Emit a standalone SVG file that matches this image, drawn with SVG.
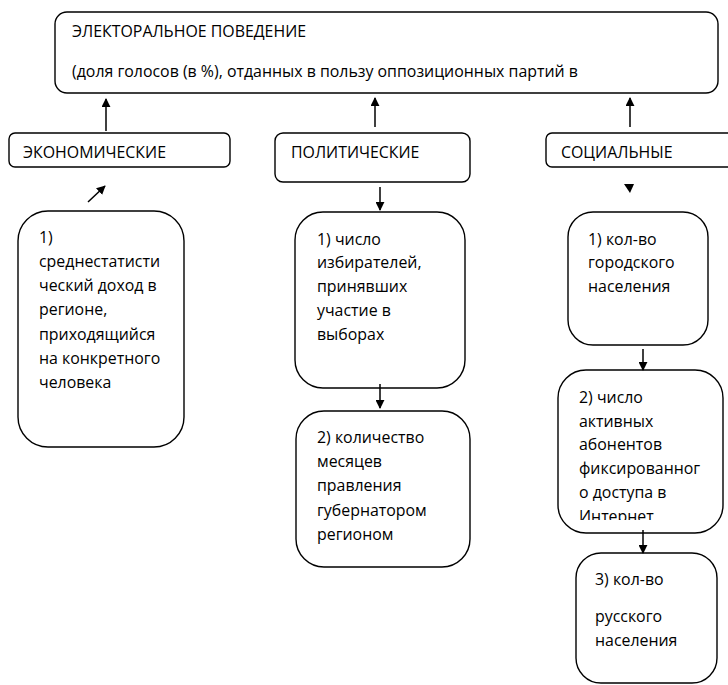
<svg xmlns="http://www.w3.org/2000/svg" width="728" height="685" viewBox="0 0 728 685">
<defs>
<style>
.box{fill:#fff;stroke:#000;stroke-width:1.4}
.t{font-family:"Open Sans","Liberation Sans",sans-serif;font-size:15.9px;fill:#000}
.c{stroke:#000;stroke-width:1.5;fill:none}
</style>
<marker id="ah" viewBox="0 0 10 10" refX="9" refY="5" markerWidth="9" markerHeight="9" markerUnits="userSpaceOnUse" orient="auto">
<path d="M0,0 L10,5 L0,10 Z" fill="#000"/>
</marker>
<clipPath id="clipS2"><rect x="558" y="370" width="165" height="150"/></clipPath>
</defs>
<rect width="728" height="685" fill="#fff"/>

<g id="node-top">
<rect class="box" x="55" y="12" width="663" height="81" rx="12"/>
<text class="t" x="72" y="37">ЭЛЕКТОРАЛЬНОЕ ПОВЕДЕНИЕ</text>
<text class="t" x="72" y="77">(доля голосов (в %), отданных в пользу оппозиционных партий в</text>
</g>

<g id="node-econ">
<rect class="box" x="9" y="133" width="221" height="34" rx="6"/>
<text class="t" x="23" y="158">ЭКОНОМИЧЕСКИЕ</text>
</g>
<g id="node-polit">
<rect class="box" x="275" y="133" width="195" height="49" rx="8"/>
<text class="t" x="291" y="158">ПОЛИТИЧЕСКИЕ</text>
</g>
<g id="node-social">
<rect class="box" x="546" y="133" width="200" height="34" rx="6"/>
<text class="t" x="561" y="158">СОЦИАЛЬНЫЕ</text>
</g>

<g id="node-econ1">
<rect class="box" x="18" y="211" width="166" height="236" rx="30"/>
<text class="t" x="39" y="243">1)</text>
<text class="t" x="39" y="267">среднестатисти</text>
<text class="t" x="39" y="291">ческий доход в</text>
<text class="t" x="39" y="315">регионе,</text>
<text class="t" x="39" y="340">приходящийся</text>
<text class="t" x="39" y="364">на конкретного</text>
<text class="t" x="39" y="388">человека</text>
</g>

<g id="node-polit1">
<rect class="box" x="295" y="212" width="170" height="176" rx="28"/>
<text class="t" x="317" y="245">1) число</text>
<text class="t" x="317" y="268">избирателей,</text>
<text class="t" x="317" y="292">принявших</text>
<text class="t" x="317" y="316">участие в</text>
<text class="t" x="317" y="340">выборах</text>
</g>

<g id="node-polit2">
<rect class="box" x="296" y="411" width="174" height="156" rx="28"/>
<text class="t" x="317" y="443">2) количество</text>
<text class="t" x="317" y="467">месяцев</text>
<text class="t" x="317" y="491">правления</text>
<text class="t" x="317" y="516">губернатором</text>
<text class="t" x="317" y="540">регионом</text>
</g>

<g id="node-social1">
<rect class="box" x="568" y="212" width="140" height="133" rx="25"/>
<text class="t" x="588" y="245">1) кол-во</text>
<text class="t" x="588" y="268">городского</text>
<text class="t" x="588" y="292">населения</text>
</g>

<g id="node-social2">
<rect class="box" x="558" y="370" width="165" height="163" rx="28"/>
<g clip-path="url(#clipS2)">
<text class="t" x="579" y="403">2) число</text>
<text class="t" x="579" y="427">активных</text>
<text class="t" x="579" y="450">абонентов</text>
<text class="t" x="579" y="474">фиксированног</text>
<text class="t" x="579" y="498">о доступа в</text>
<text class="t" x="579" y="522">Интернет</text>
</g>
</g>

<g id="node-social3">
<rect class="box" x="576" y="553" width="141" height="130" rx="25"/>
<text class="t" x="595" y="585">3) кол-во</text>
<text class="t" x="595" y="622">русского</text>
<text class="t" x="595" y="646">населения</text>
</g>

<g id="connectors">
<line class="c" x1="106" y1="131" x2="106" y2="99" marker-end="url(#ah)"/>
<line class="c" x1="375" y1="127" x2="375" y2="98" marker-end="url(#ah)"/>
<line class="c" x1="630" y1="127" x2="630" y2="98" marker-end="url(#ah)"/>
<line class="c" x1="88" y1="202" x2="105" y2="186" marker-end="url(#ah)"/>
<line class="c" x1="380" y1="187" x2="380" y2="210" marker-end="url(#ah)"/>
<polygon points="624,184 634,184 630,193" fill="#000"/>
<line class="c" x1="380" y1="384" x2="380" y2="408" marker-end="url(#ah)"/>
<line class="c" x1="643" y1="349" x2="643" y2="370" marker-end="url(#ah)"/>
<line class="c" x1="643" y1="530" x2="643" y2="553" marker-end="url(#ah)"/>
</g>
</svg>
